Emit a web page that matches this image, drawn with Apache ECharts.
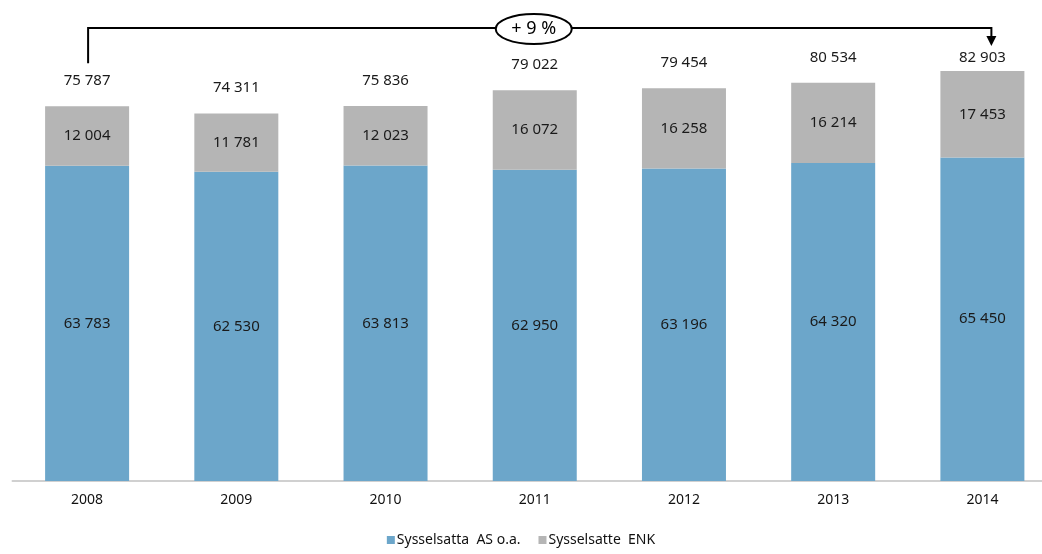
<!DOCTYPE html>
<html>
<head>
<meta charset="utf-8">
<script src="https://cdn.jsdelivr.net/npm/echarts@6/dist/echarts.min.js"></script>
<style>
  html, body { margin: 0; padding: 0; background: #fff; }
  #chart { width: 1042px; height: 554px; }
</style>
</head>
<body>
<div id="chart"></div>
<script>
// Employment by company form, 2008–2014
const years = ['2008', '2009', '2010', '2011', '2012', '2013', '2014'];
const asValues = [63783, 62530, 63813, 62950, 63196, 64320, 65450];
const enkValues = [12004, 11781, 12023, 16072, 16258, 16214, 17453];
const totals = [75787, 74311, 75836, 79022, 79454, 80534, 82903];
const seriesNames = ['Sysselsatta  AS o.a.', 'Sysselsatte  ENK'];
const growthText = '+ 9 %';

const FONT = '"Noto Sans", sans-serif';
const BLUE = '#6ca6ca';
const GREY = '#b5b5b5';

function fmt(v) {
  return String(v).replace(/\B(?=(\d{3})+(?!\d))/g, ' ');
}

const chart = echarts.init(document.getElementById('chart'));

const labelBase = {
  show: true,
  fontFamily: FONT,
  fontSize: 15,
  color: '#1a1a1a'
};

const option = {
  animation: false,
  backgroundColor: '#ffffff',
  // the plot runs slightly past the right edge, so the last slot is cut
  grid: {
    left: 12.5, width: 1044.5, top: 36, bottom: 73,
    containLabel: false, outerBoundsMode: 'none'
  },
  legend: {
    bottom: 2,
    left: 'center',
    itemWidth: 8,
    itemHeight: 8,
    itemGap: 18,
    icon: 'rect',
    textStyle: { fontFamily: FONT, fontSize: 14, color: '#111', padding: [0, 0, 0, -3] },
    data: seriesNames
  },
  xAxis: {
    type: 'category',
    data: years,
    axisLine: { lineStyle: { color: '#d0d0d0', width: 2 } },
    axisTick: { show: false },
    axisLabel: { fontFamily: FONT, fontSize: 14, color: '#111', margin: 12 }
  },
  yAxis: {
    type: 'value',
    min: 0,
    max: 90000,
    show: false,
    splitLine: { show: false }
  },
  series: [
    {
      name: seriesNames[0],
      type: 'bar',
      stack: 'total',
      barWidth: 84,
      data: asValues,
      itemStyle: { color: BLUE },
      label: Object.assign({}, labelBase, { position: 'inside', formatter: p => fmt(p.value) })
    },
    {
      name: seriesNames[1],
      type: 'bar',
      stack: 'total',
      barWidth: 84,
      data: enkValues,
      itemStyle: { color: GREY },
      label: Object.assign({}, labelBase, { position: 'inside', formatter: p => fmt(p.value) })
    },
    {
      // totals shown above each stack; the last sits closer to leave room for the arrow
      name: 'total',
      type: 'bar',
      stack: 'total',
      barWidth: 84,
      data: totals.map((t, i) => ({
        value: 0,
        label: i === totals.length - 1 ? { distance: 6 } : undefined
      })),
      itemStyle: { color: 'transparent' },
      label: Object.assign({}, labelBase, {
        position: 'top',
        distance: 18,
        formatter: p => fmt(totals[p.dataIndex])
      })
    }
  ]
};

chart.setOption(option);

// Growth bracket from the first to the last total
const first = chart.convertToPixel({ seriesIndex: 0 }, [0, totals[0]]);
const last = chart.convertToPixel({ seriesIndex: 0 }, [years.length - 1, totals[totals.length - 1]]);
const lineY = 28;
const x0 = first[0] + 1;
const x1 = last[0] + 9;
const midX = (x0 + x1) / 2 - 6;

chart.setOption({
  graphic: [
    {
      type: 'polyline',
      shape: { points: [[x0, first[1] - 43], [x0, lineY], [x1, lineY], [x1, last[1] - 32]] },
      style: { stroke: '#000', lineWidth: 2, fill: null },
      z: 10
    },
    {
      type: 'polygon',
      shape: { points: [[x1 - 5, last[1] - 35], [x1 + 5, last[1] - 35], [x1, last[1] - 25]] },
      style: { fill: '#000' },
      z: 10
    },
    {
      type: 'ellipse',
      shape: { cx: midX, cy: lineY + 1, rx: 38, ry: 15 },
      style: { fill: '#fff', stroke: '#000', lineWidth: 2 },
      z: 11
    },
    {
      type: 'text',
      x: midX,
      y: lineY + 1,
      style: {
        text: growthText,
        fontFamily: FONT,
        fontSize: 18,
        fill: '#000',
        align: 'center',
        verticalAlign: 'middle'
      },
      z: 12
    }
  ]
});
</script>
</body>
</html>
